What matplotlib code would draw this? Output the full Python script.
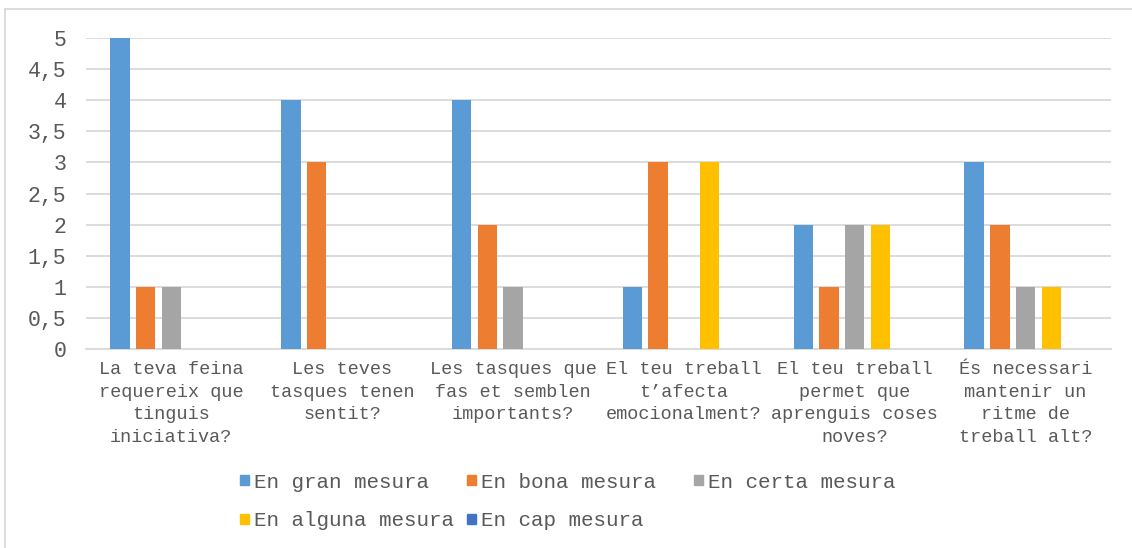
import matplotlib.pyplot as plt
import numpy as np
from matplotlib.patches import Patch
from matplotlib.lines import Line2D

questions = [
    "La teva feina\nrequereix que\ntinguis\niniciativa?",
    "Les teves\ntasques tenen\nsentit?",
    "Les tasques que\nfas et semblen\nimportants?",
    "El teu treball\nt\u2019afecta\nemocionalment?",
    "El teu treball\npermet que\naprenguis coses\nnoves?",
    "\u00c9s necessari\nmantenir un\nritme de\ntreball alt?",
]
series = ["En gran mesura", "En bona mesura", "En certa mesura",
          "En alguna mesura", "En cap mesura"]
gran = [5, 4, 4, 1, 2, 3]
bona = [1, 3, 2, 3, 1, 2]
certa = [1, 0, 1, 0, 2, 1]
alguna = [0, 0, 0, 3, 2, 1]
cap = [0, 0, 0, 0, 0, 0]
yticks = [0, 0.5, 1, 1.5, 2, 2.5, 3, 3.5, 4, 4.5, 5]
ytick_labels = ["0", "0,5", "1", "1,5", "2", "2,5", "3", "3,5", "4", "4,5", "5"]

colors = ["#5B9BD5", "#ED7D31", "#A5A5A5", "#FFC000", "#4472C4"]
grid_c = "#D9D9D9"
text_c = "#595959"
font = "Liberation Mono"

W, H = 1132, 548
fig = plt.figure(figsize=(W / 100, H / 100), dpi=100)
ax = fig.add_axes([86 / W, 1 - 349 / H, (1111 - 86) / W, (349 - 38) / H])

x = np.arange(len(questions))
slot = 0.1504
width = 0.114
for i, vals in enumerate([gran, bona, certa, alguna, cap]):
    ax.bar(x + (i - 2) * slot, vals, width, color=colors[i], zorder=3)

ax.set_xlim(-0.5, len(questions) - 0.5)
ax.set_ylim(0, 5)
ax.set_yticks(yticks)
ax.set_yticklabels(ytick_labels, family=font, fontsize=15.5, color=text_c)
ax.set_xticks(x)
ax.set_xticklabels(questions, family=font, fontsize=13.3, color=text_c,
                   linespacing=1.42, va="top")
ax.tick_params(axis="y", length=0, pad=14)
ax.tick_params(axis="x", length=0, pad=9)
ax.grid(axis="y", color=grid_c, linewidth=1.3, zorder=0)
for s in ["top", "right", "left"]:
    ax.spines[s].set_visible(False)
ax.spines["bottom"].set_color(grid_c)
ax.spines["bottom"].set_linewidth(1.3)
ax.spines["bottom"].set_zorder(1)

# legend entries laid out in three equal columns
leg_pos = [(240, 482), (467, 482), (694, 482), (240, 521), (467, 521)]
for i, name in enumerate(series):
    lx, ly = leg_pos[i]
    leg = fig.legend(handles=[Patch(color=colors[i])], labels=[name],
                     loc="center left", bbox_to_anchor=(lx / W, 1 - ly / H),
                     frameon=False, borderpad=0, borderaxespad=0,
                     handlelength=0.42, handleheight=0.42, handletextpad=0.25,
                     prop={"family": font, "size": 15})
    for t in leg.get_texts():
        t.set_color(text_c)

# outer chart border (top and left edges)
fig.add_artist(Line2D([4.5 / W, 1], [1 - 8.5 / H, 1 - 8.5 / H],
                      color=grid_c, linewidth=1.3))
fig.add_artist(Line2D([4.5 / W, 4.5 / W], [0, 1 - 8.5 / H],
                      color=grid_c, linewidth=1.3))

fig.savefig("out.png", dpi=100, facecolor="white")
